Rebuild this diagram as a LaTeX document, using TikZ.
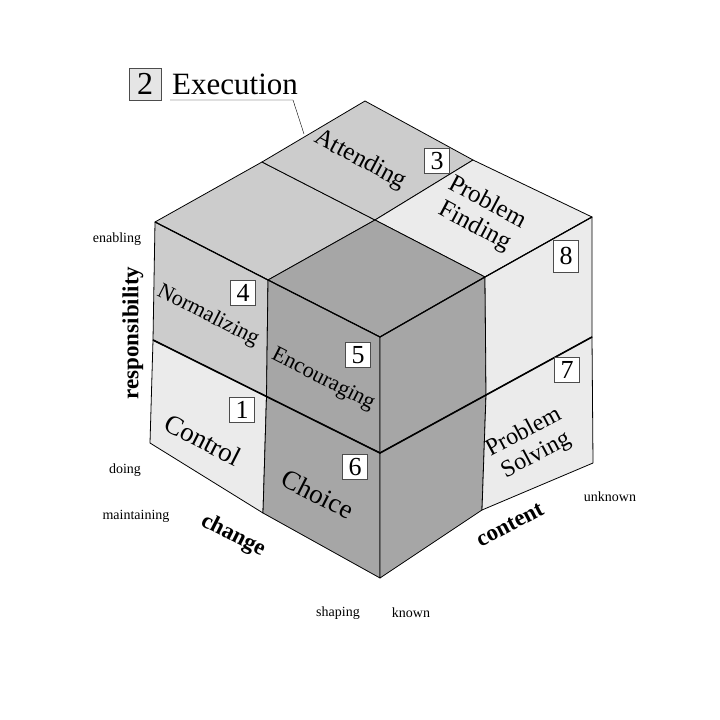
\documentclass[tikz,border=0pt]{standalone}
\usepackage{fontspec}
\setmainfont{Liberation Serif}
\usetikzlibrary{positioning,calc}
\tikzset{
  light/.style={fill=black!8,draw=black,thick,line join=round},
  mid/.style={fill=black!20,draw=black,thick,line join=round},
  dark/.style={fill=black!35,draw=black,thick,line join=round},
  numbox/.style={draw=black!70,fill=white,inner sep=1pt,minimum size=25pt,font=\fontsize{26}{26}\selectfont},
  celltext/.style={font=\fontsize{22}{24}\selectfont,align=center,inner sep=0pt},
  axistext/.style={font=\bfseries\fontsize{23}{23}\selectfont,inner sep=0pt},
  ticktext/.style={font=\fontsize{14}{14}\selectfont,inner sep=0pt}
}
\begin{document}
\begin{tikzpicture}[x=1pt,y=-1pt]
  \useasboundingbox (0,0) rectangle (720,720);
  % corner points of the cube
  \coordinate (B) at (365,101);   \coordinate (L) at (155,222);
  \coordinate (R) at (592,217);   \coordinate (F) at (380,337);
  \coordinate (LB) at (262,162);  \coordinate (BR) at (473,160);
  \coordinate (FL) at (268,280);  \coordinate (FR) at (485,277);
  \coordinate (C) at (375,220);
  \coordinate (Lm) at (153,340);  \coordinate (Lb) at (150,443);
  \coordinate (Fm) at (380,453);  \coordinate (Fb) at (380,578);
  \coordinate (Lc) at (266.5,396.5); \coordinate (Lbm) at (263,513);
  \coordinate (Rm) at (592,337);  \coordinate (Rb) at (593,463);
  \coordinate (Rc) at (486,395);  \coordinate (Rbm) at (482,510);

  % top face
  \draw[mid] (L) -- (LB) -- (C) -- (FL) -- cycle;
  \draw[mid] (LB) -- (B) -- (BR) -- (C) -- cycle;
  \draw[light] (C) -- (BR) -- (R) -- (FR) -- cycle;
  \draw[dark] (FL) -- (C) -- (FR) -- (F) -- cycle;
  % left face
  \draw[mid] (L) -- (FL) -- (Lc) -- (Lm) -- cycle;
  \draw[light] (Lm) -- (Lc) -- (Lbm) -- (Lb) -- cycle;
  \draw[dark] (FL) -- (F) -- (Fm) -- (Lc) -- cycle;
  \draw[dark] (Lc) -- (Fm) -- (Fb) -- (Lbm) -- cycle;
  % right face
  \draw[dark] (F) -- (FR) -- (Rc) -- (Fm) -- cycle;
  \draw[dark] (Fm) -- (Rc) -- (Rbm) -- (Fb) -- cycle;
  \draw[light] (FR) -- (R) -- (Rm) -- (Rc) -- cycle;
  \draw[light] (Rc) -- (Rm) -- (Rb) -- (Rbm) -- cycle;
  % heavy middle lines
  \draw[line width=1.6pt] (Lm) -- (Lc) -- (Fm) -- (Rc) -- (Rm);
  \draw[line width=1.2pt] (L) -- (FL) -- (F) -- (FR) -- (R);

  % cell labels
  \node[celltext,rotate=-28,font=\fontsize{25}{25}\selectfont] (att) at (360,160) {Attending};
  \node[numbox] (n3) at (437,161) {3};
  \node[celltext,rotate=-28,font=\fontsize{25}{27}\selectfont] (pf) at (481,215) {Problem\\Finding};
  \node[numbox,minimum height=32pt] (n8) at (566,256) {8};
  \node[numbox] (n4) at (243,293) {4};
  \node[celltext,rotate=-27] (norm) at (208,316) {Normalizing};
  \node[numbox] (n5) at (358,355) {5};
  \node[celltext,rotate=-27] (enc) at (323,380) {Encouraging};
  \node[numbox] (n1) at (242,410) {1};
  \node[celltext,rotate=-27,font=\fontsize{27}{27}\selectfont] (ctl) at (203,440) {Control};
  \node[numbox] (n6) at (355,467) {6};
  \node[celltext,rotate=-27,font=\fontsize{27}{27}\selectfont] (cho) at (318,494) {Choice};
  \node[numbox] (n7) at (567,370) {7};
  \node[celltext,rotate=28,font=\fontsize{24}{26}\selectfont] (ps) at (530,444) {Problem\\Solving};

  % execution label with leader
  \node[numbox,fill=black!10,minimum size=32pt,font=\fontsize{32}{32}\selectfont] (n2) at (145,84) {2};
  \node[anchor=west,inner sep=0pt,font=\fontsize{31}{31}\selectfont] (exe) at (172,84) {Execution};
  \coordinate (lead) at (304,134);
  \draw[thin] (170,100) -- (293,100) -- (lead);

  % axes
  \node[axistext,rotate=90] (resp) at (133,333) {responsibility};
  \node[axistext,rotate=-27] (chg) at (233,536) {change};
  \node[axistext,rotate=28] (cnt) at (510,525) {content};
  \node[ticktext] (en) at (117,239) {enabling};
  \node[ticktext] (do) at (125,470) {doing};
  \node[ticktext] (ma) at (136,516) {maintaining};
  \node[ticktext] (sh) at (338,613) {shaping};
  \node[ticktext] (kn) at (411,613) {known};
  \node[ticktext] (un) at (610,497) {unknown};
\end{tikzpicture}
\end{document}
